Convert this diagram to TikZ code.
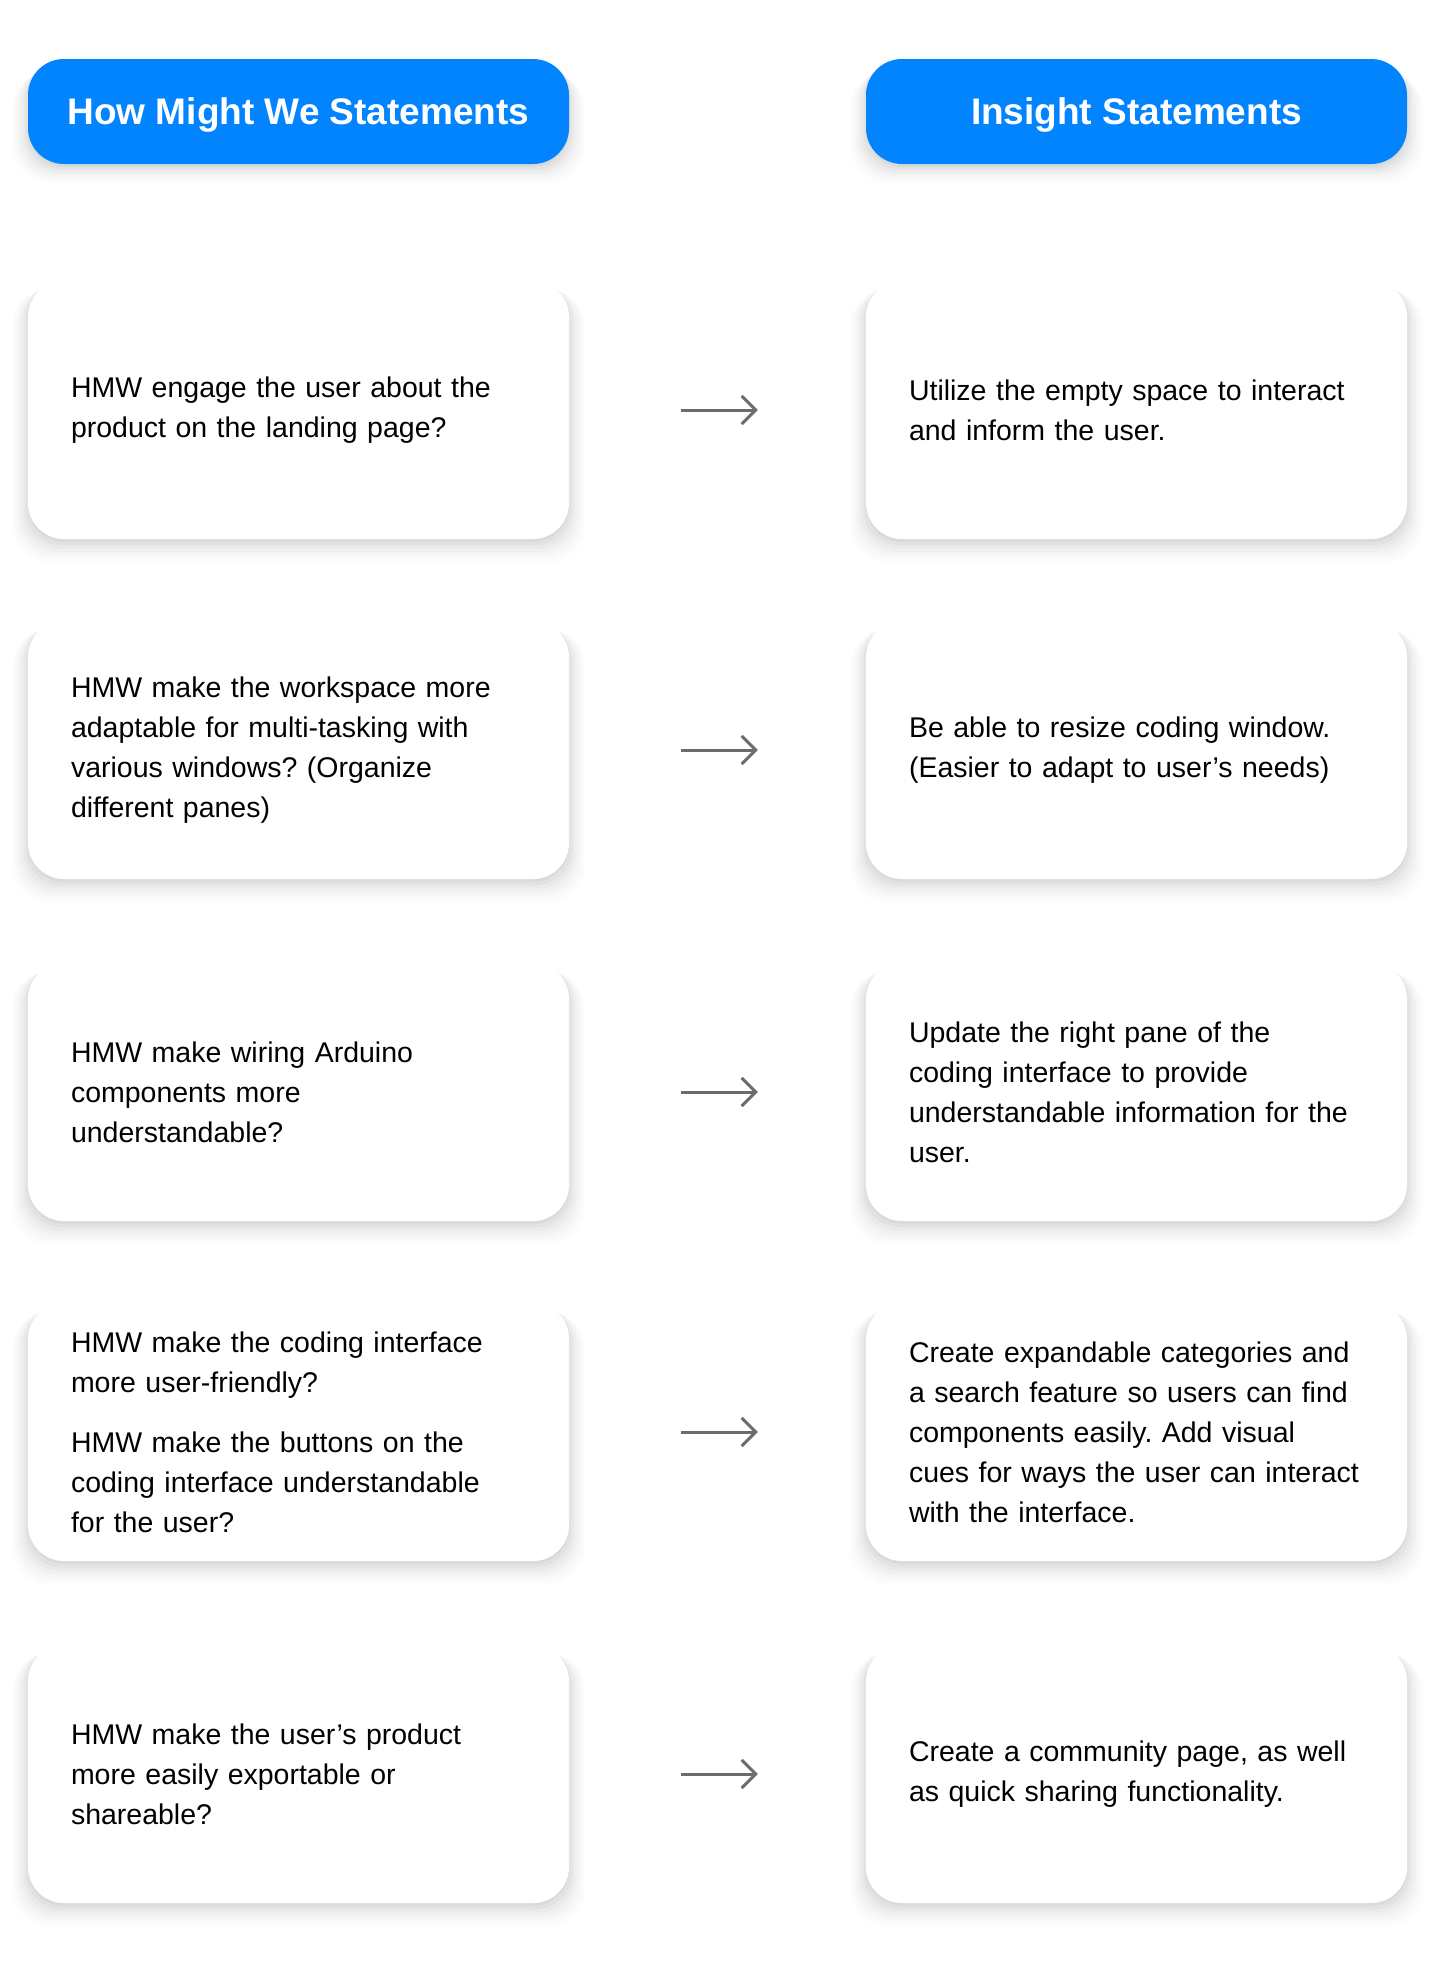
\documentclass[tikz,border=0pt]{standalone}
\usepackage{fontspec}
\setmainfont{Liberation Sans}
\usepackage{tikz}
\usetikzlibrary{shadows}
\usetikzlibrary{calc}
\usetikzlibrary{arrows.meta}
\frenchspacing
\hyphenpenalty=10000
\definecolor{hmwblue}{RGB}{2,132,255}
\definecolor{arrowgray}{RGB}{108,108,108}
\tikzstyle{softshadow}=[general shadow={fill=black,opacity=.03,shadow yshift=-3pt},
  general shadow={fill=black,opacity=.03,shadow yshift=-5pt,shadow scale=1.01},
  general shadow={fill=black,opacity=.025,shadow yshift=-7pt,shadow scale=1.02},
  general shadow={fill=black,opacity=.02,shadow yshift=-9pt,shadow scale=1.03},
  general shadow={fill=black,opacity=.015,shadow yshift=-11pt,shadow scale=1.04},
  general shadow={fill=black,opacity=.012,shadow yshift=-13pt,shadow scale=1.05},
  general shadow={fill=black,opacity=.01,shadow yshift=-15pt,shadow scale=1.06}]
\tikzstyle{header}=[rectangle,rounded corners=36pt,fill=hmwblue,softshadow,minimum width=541pt,minimum height=105pt,text depth=0pt,text=white,font=\fontsize{37}{44}\selectfont\bfseries]
\tikzstyle{card}=[rectangle,rounded corners=36pt,fill=white,softshadow,minimum height=258pt,text width=455pt,inner xsep=43pt,align=left,font=\fontsize{28.5}{40}\selectfont]
\tikzstyle{link}=[draw,line width=3pt,arrowgray,-{Straight Barb[length=14pt,width=28pt]}]

\begin{document}
\begin{tikzpicture}[x=1pt, y=-1pt]

    \useasboundingbox[fill=white] (0,0) rectangle (1435,1962);

    \node[header] (hmw) at (298.5,111.5) {How Might We Statements};
    \node[header] (ins) at (1136.5,111.5) {Insight Statements};

    \foreach \i/\y/\hmwtext/\instext in {
        1/410/{HMW engage the user about the\\product on the landing page?}/{Utilize the empty space to interact\\and inform the user.},
        2/750/{HMW make the workspace more\\adaptable for multi-tasking with\\various windows? (Organize\\different panes)}/{Be able to resize coding window.\\(Easier to adapt to user’s needs)},
        3/1092/{HMW make wiring Arduino\\components more\\understandable?}/{Update the right pane of the\\coding interface to provide\\understandable information for the\\user.},
        4/1432/{HMW make the coding interface\\more user-friendly?\\[20pt]HMW make the buttons on the\\coding interface understandable\\for the user?}/{Create expandable categories and\\a search feature so users can find\\components easily. Add visual\\cues for ways the user can interact\\with the interface.},
        5/1774/{HMW make the user’s product\\more easily exportable or\\shareable?}/{Create a community page, as well\\as quick sharing functionality.} }
    {
        \node[card] (L\i) at (298.5,\y) {\hmwtext};
        \node[card] (R\i) at (1136.5,\y) {\instext};
    }

    \foreach \i in {1,...,5}
        \path[link] ($(L\i.east)+(112pt,0)$) -- ($(R\i.west)+(-108pt,0)$);

\end{tikzpicture}
\end{document}
